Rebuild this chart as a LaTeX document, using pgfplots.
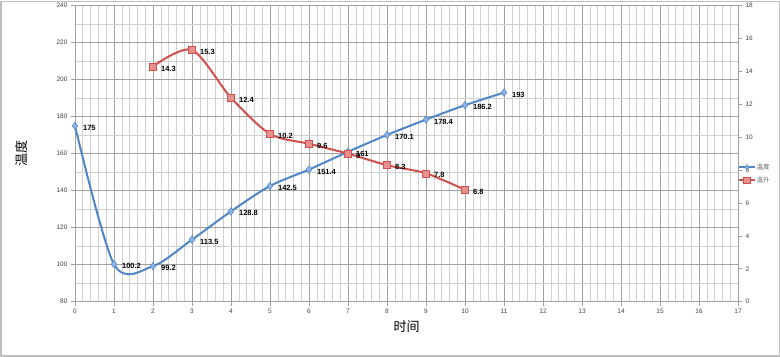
\documentclass[border=0pt]{standalone}
\usepackage{pgfplots}
\pgfplotsset{compat=1.18}
\usepackage{fontspec}
\setmainfont{Liberation Sans}
\newfontfamily\cjk{Noto Sans CJK SC}
\definecolor{bl}{HTML}{4F86C6}
\definecolor{blfill}{HTML}{8DB3E2}
\definecolor{rd}{HTML}{D0504D}
\definecolor{rdfill}{HTML}{E8908E}
\definecolor{majg}{HTML}{A0A0A0}
\definecolor{ming}{HTML}{D0D0D0}
\begin{document}
\begin{tikzpicture}[x=1pt,y=1pt]
\draw[gray!50,line width=1.5pt] (0.75,0.75) rectangle (779.25,355.25);
\pgfplotsset{
  common/.style={
    scale only axis, width=663pt, height=296pt,
    at={(75pt,55pt)}, anchor=south west,
    xmin=0, xmax=17,
    ticklabel style={font=\fontsize{6.5}{7}\selectfont, text=black!75},
    /pgf/number format/assume math mode=true,
    tick style={majg, line width=0.6pt},
    major tick length=4pt,
    axis line style={majg, line width=0.8pt},
  },
  lbl/.style={nodes near coords, point meta=explicit symbolic,
    nodes near coords style={font=\bfseries\fontsize{7.5}{8}\selectfont, anchor=west, xshift=4.5pt, yshift=-2pt, text=black}},
}
\begin{axis}[common, lbl,
  axis y line*=left, axis x line*=bottom,
  ymin=80, ymax=240, ytick distance=20,
  xtick distance=1,
  minor x tick num=4, minor y tick num=1,
  grid=both,
  major grid style={majg, line width=0.7pt},
  minor grid style={ming, line width=0.6pt},
  tick align=outside,
  minor tick length=0pt,
  xlabel={\cjk 时间}, xlabel style={font=\fontsize{13}{14}\selectfont, yshift=0pt},
  ylabel={\cjk 温度}, ylabel style={font=\fontsize{13}{14}\selectfont, yshift=22pt},
]
\addplot[bl, line width=2pt, smooth, tension=0.5, mark=diamond*, mark size=3.8pt, mark options={fill=blfill, draw=bl, line width=0.5pt}] coordinates {
(0,175)[175] (1,100.2)[100.2] (2,99.2)[99.2] (3,113.5)[113.5] (4,128.8)[128.8] (5,142.5)[142.5] (6,151.4)[151.4] (7,161)[161] (8,170.1)[170.1] (9,178.4)[178.4] (10,186.2)[186.2] (11,193)[193]};
\end{axis}
\begin{axis}[common, lbl,
  axis y line*=right, axis x line=none,
  ymin=0, ymax=18, ytick distance=2,
  tick align=outside,
  legend style={at={(1.0,0.47)}, anchor=north west, draw=none, fill=none, font=\cjk\fontsize{6.5}{7}\selectfont, text=black!60, inner sep=0pt, row sep=4pt, nodes={inner sep=1pt}},
  legend cell align=left,
  legend image post style={scale=0.9},
]
\addlegendimage{bl, line width=2pt, mark=diamond*, mark size=3pt, mark options={fill=blfill, draw=bl, line width=0.5pt}}
\addlegendentry{温度}
\addplot[rd, line width=2pt, smooth, tension=0.5, mark=square*, mark size=3.6pt, mark options={fill=rdfill, draw=rd, line width=0.5pt}] coordinates {
(2,14.3)[14.3] (3,15.3)[15.3] (4,12.4)[12.4] (5,10.2)[10.2] (6,9.6)[9.6] (7,9)[9] (8,8.3)[8.3] (9,7.8)[7.8] (10,6.8)[6.8]};
\addlegendentry{温升}
\end{axis}
\end{tikzpicture}
\end{document}
